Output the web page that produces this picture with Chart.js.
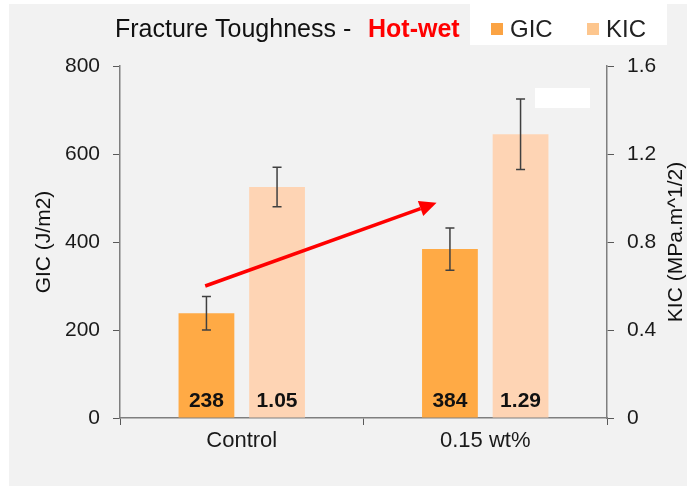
<!DOCTYPE html>
<html>
<head>
<meta charset="utf-8">
<script src="https://cdn.jsdelivr.net/npm/chart.js@4.4.1/dist/chart.umd.min.js"></script>
<style>
  html, body { margin: 0; padding: 0; background: #fff; }
  #wrap { width: 687px; height: 486px; }
</style>
</head>
<body>
<div id="wrap"><canvas id="chart" width="687" height="486"></canvas></div>
<script>
const categories = ['Control', '0.15 wt%'];
const gicValues = [238, 384];
const gicErrors = [38, 48];
const kicValues = [1.05, 1.29];
const kicErrors = [0.09, 0.16];
const gicLabels = ['238', '384'];
const kicLabels = ['1.05', '1.29'];
const gicTicks = ['0', '200', '400', '600', '800'];
const kicTicks = ['0', '0.4', '0.8', '1.2', '1.6'];
// red trend arrow: [category position, GIC value]
const arrowFrom = [-0.15, 300];
const arrowTo = [0.8, 489];

const FONT = "'Liberation Sans', Arial, sans-serif";
const GIC_COLOR = '#ffaa45';
const KIC_COLOR = '#fed4b4';

const panelPlugin = {
  id: 'panel',
  beforeDraw(chart) {
    const c = chart.ctx;
    c.save();
    c.fillStyle = '#ffffff';
    c.fillRect(0, 0, chart.width, chart.height);
    c.fillStyle = '#f2f2f2';
    c.fillRect(9, 4, chart.width - 9, chart.height - 4);
    c.fillStyle = '#ffffff';
    c.fillRect(470, 4, 197, 41);
    c.fillRect(535, 88, 55, 20);
    c.restore();
  }
};

const overlayPlugin = {
  id: 'overlay',
  afterDatasetsDraw(chart) {
    const c = chart.ctx;
    const area = chart.chartArea;
    c.save();
    // error bars + value labels
    chart.data.datasets.forEach((ds, di) => {
      const meta = chart.getDatasetMeta(di);
      const ys = chart.scales[ds.yAxisID];
      meta.data.forEach((bar, i) => {
        const hi = ys.getPixelForValue(ds.data[i] + ds.errors[i]);
        const lo = ys.getPixelForValue(ds.data[i] - ds.errors[i]);
        c.strokeStyle = '#404040';
        c.lineWidth = 1.5;
        c.beginPath();
        c.moveTo(bar.x, hi); c.lineTo(bar.x, lo);
        c.moveTo(bar.x - 4.5, hi); c.lineTo(bar.x + 4.5, hi);
        c.moveTo(bar.x - 4.5, lo); c.lineTo(bar.x + 4.5, lo);
        c.stroke();
        c.fillStyle = '#111';
        c.font = 'bold 21px ' + FONT;
        c.textAlign = 'center';
        c.textBaseline = 'alphabetic';
        c.fillText(ds.valueLabels[i], bar.x, area.bottom - 11);
      });
    });
    // arrow
    const xs = chart.scales.x, ys = chart.scales.y;
    const x0 = xs.getPixelForValue(arrowFrom[0]), y0 = ys.getPixelForValue(arrowFrom[1]);
    const x1 = xs.getPixelForValue(arrowTo[0]), y1 = ys.getPixelForValue(arrowTo[1]);
    const ang = Math.atan2(y1 - y0, x1 - x0);
    const len = 17, half = 8;
    const bx = x1 - len * Math.cos(ang), by = y1 - len * Math.sin(ang);
    c.strokeStyle = '#ff0000';
    c.fillStyle = '#ff0000';
    c.lineWidth = 3.5;
    c.beginPath();
    c.moveTo(x0, y0); c.lineTo(bx, by);
    c.stroke();
    c.beginPath();
    c.moveTo(x1, y1);
    c.lineTo(bx + half * Math.sin(ang), by - half * Math.cos(ang));
    c.lineTo(bx - half * Math.sin(ang), by + half * Math.cos(ang));
    c.closePath();
    c.fill();
    c.restore();
  },
  afterDraw(chart) {
    const c = chart.ctx;
    const area = chart.chartArea;
    c.save();
    // title
    c.textBaseline = 'alphabetic';
    c.textAlign = 'left';
    c.fillStyle = '#111';
    c.font = '25px ' + FONT;
    c.fillText('Fracture Toughness -', 115, 37);
    c.fillStyle = '#ff0000';
    c.font = 'bold 25px ' + FONT;
    c.fillText('Hot-wet', 368, 37);
    // legend
    const legendX = [491, 587];
    chart.data.datasets.forEach((ds, i) => {
      c.fillStyle = ds.legendColor;
      c.fillRect(legendX[i], 23, 12, 12);
      c.fillStyle = '#222';
      c.font = '24px ' + FONT;
      c.fillText(ds.label, legendX[i] + 19, 37);
    });
    // right axis title, reading bottom to top
    c.translate(676, (area.top + area.bottom) / 2);
    c.rotate(-Math.PI / 2);
    c.textAlign = 'center';
    c.textBaseline = 'middle';
    c.fillStyle = '#111';
    c.font = '21px ' + FONT;
    c.fillText('KIC (MPa.m^1/2)', 0, 0);
    c.restore();
  }
};

const tickFont = { family: FONT, size: 21 };

new Chart(document.getElementById('chart').getContext('2d'), {
  type: 'bar',
  data: {
    labels: categories,
    datasets: [
      { label: 'GIC', data: gicValues, errors: gicErrors, valueLabels: gicLabels, yAxisID: 'y',
        backgroundColor: GIC_COLOR, legendColor: '#fba343', categoryPercentage: 0.58, barPercentage: 0.79 },
      { label: 'KIC', data: kicValues, errors: kicErrors, valueLabels: kicLabels, yAxisID: 'y1',
        backgroundColor: KIC_COLOR, legendColor: '#fdc68e', categoryPercentage: 0.58, barPercentage: 0.79 }
    ]
  },
  options: {
    responsive: false,
    animation: false,
    devicePixelRatio: 1,
    layout: { padding: { top: 66, left: 0, right: 0, bottom: 0 } },
    plugins: { legend: { display: false }, title: { display: false }, tooltip: { enabled: false } },
    scales: {
      x: {
        grid: { drawOnChartArea: false, tickLength: 7, color: '#595959', offset: true },
        border: { color: '#7f7f7f', width: 1.5 },
        ticks: { font: { family: FONT, size: 22 }, color: '#1a1a1a', padding: 3 },
        afterFit: s => { s.height = 68; }
      },
      y: {
        position: 'left', min: 0, max: 800,
        grid: { drawOnChartArea: false, tickLength: 7, color: '#595959' },
        border: { color: '#7f7f7f', width: 1.5 },
        ticks: { stepSize: 200, font: tickFont, color: '#1a1a1a', padding: 13,
          callback: (v, i) => gicTicks[i] },
        title: { display: true, text: 'GIC (J/m2)', font: { family: FONT, size: 21 }, color: '#111',
          padding: { top: 32, bottom: 0 } },
        afterFit: s => { s.width = 120; }
      },
      y1: {
        position: 'right', min: 0, max: 1.6,
        grid: { drawOnChartArea: false, tickLength: 7, color: '#595959' },
        border: { color: '#7f7f7f', width: 1.5 },
        ticks: { stepSize: 0.4, font: tickFont, color: '#1a1a1a', padding: 13,
          callback: (v, i) => kicTicks[i] },
        afterFit: s => { s.width = 80; }
      }
    }
  },
  plugins: [panelPlugin, overlayPlugin]
});
</script>
</body>
</html>
